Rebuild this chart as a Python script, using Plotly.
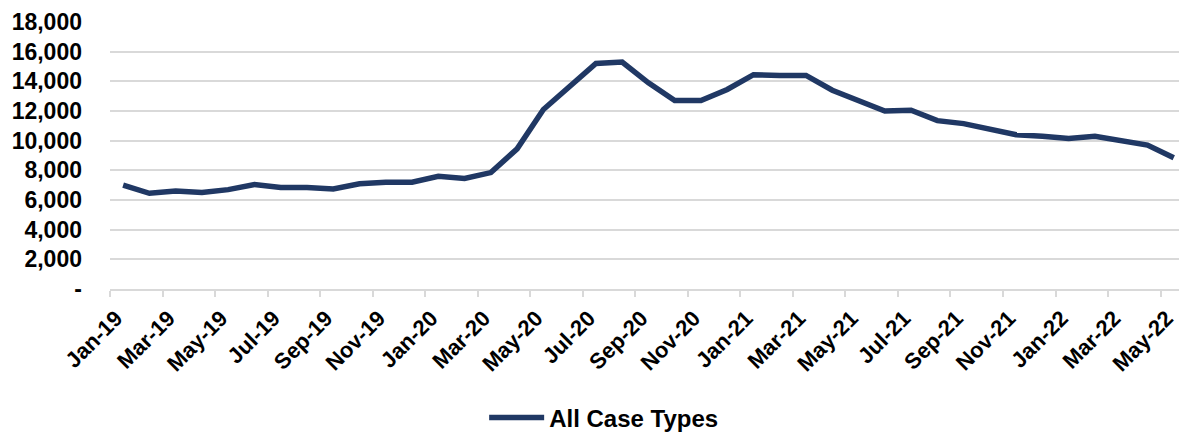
import plotly.graph_objects as go

months = ["Jan-19","Feb-19","Mar-19","Apr-19","May-19","Jun-19","Jul-19","Aug-19","Sep-19","Oct-19","Nov-19","Dec-19",
          "Jan-20","Feb-20","Mar-20","Apr-20","May-20","Jun-20","Jul-20","Aug-20","Sep-20","Oct-20","Nov-20","Dec-20",
          "Jan-21","Feb-21","Mar-21","Apr-21","May-21","Jun-21","Jul-21","Aug-21","Sep-21","Oct-21","Nov-21","Dec-21",
          "Jan-22","Feb-22","Mar-22","Apr-22","May-22"]
all_case_types = [7000, 6450, 6600, 6500, 6700, 7050, 6850, 6850, 6750, 7100, 7200, 7200,
                  7600, 7450, 7850, 9450, 12100, 13700, 15200, 15300, 13900, 12700, 12700, 13450,
                  14450, 14400, 14400, 13400, 12700, 12000, 12050, 11350, 11150, 10800, 10400, 10300,
                  10150, 10300, 10000, 9700, 8850]
y_ticks = [0, 2000, 4000, 6000, 8000, 10000, 12000, 14000, 16000, 18000]
y_ticktext = ["-", "2,000", "4,000", "6,000", "8,000", "10,000", "12,000", "14,000", "16,000", "18,000"]

x = list(range(len(months)))
tick_idx = x[::2]

fig = go.Figure()
fig.add_trace(go.Scatter(x=x, y=all_case_types, mode="lines", name="All Case Types",
                         line=dict(color="#203864", width=5.5)))

fam = "Liberation Sans, Arial, sans-serif"
fig.update_layout(
    width=1179, height=433,
    margin=dict(l=110, r=0, t=22, b=144, autoexpand=False),
    paper_bgcolor="white", plot_bgcolor="white",
    font=dict(family=fam, size=22, color="#000000"),
    showlegend=True,
    legend=dict(orientation="h", x=0.35, xanchor="left", y=-0.483, yanchor="middle",
                font=dict(family=fam, size=24, color="#000000", weight="bold"),
                itemwidth=55),
    xaxis=dict(range=[-0.5, 40.2], tickmode="array", tickvals=tick_idx,
               ticktext=["<b>%s</b>" % months[i] for i in tick_idx],
               tickangle=-45, ticks="", showgrid=False, zeroline=False,
               showline=True, linecolor="#D9D9D9", linewidth=1.5,
               automargin=False, ticklabeloverflow="allow",
               ticklabelshift=-7, ticklabelstandoff=6,
               minor=dict(tick0=-0.5, dtick=2, ticks="outside", ticklen=6, tickcolor="#D9D9D9", tickwidth=1.5, showgrid=False),
               tickfont=dict(size=22)),
    yaxis=dict(range=[0, 18000], tickmode="array", tickvals=y_ticks,
               ticktext=["<b>%s</b>" % t for t in y_ticktext],
               showgrid=True, gridcolor="#D9D9D9", gridwidth=1.5, zeroline=False,
               automargin=False,
               ticks="", ticklabelstandoff=27, tickfont=dict(size=23)),
)

fig.write_html("out.html", config={"displayModeBar": False},
               post_script="document.body.style.margin='0';document.body.style.overflow='hidden';")
